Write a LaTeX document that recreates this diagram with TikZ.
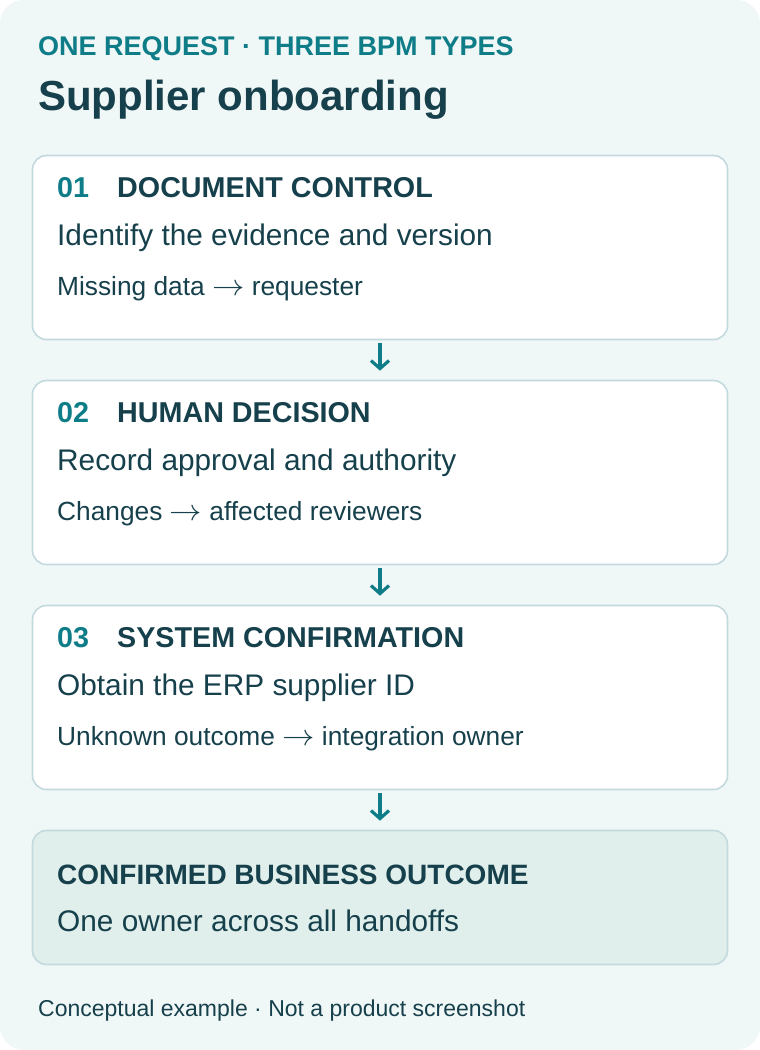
\documentclass[tikz,border=0pt]{standalone}
\usepackage{graphicx}
\usepackage{fontspec}
\setmainfont{Liberation Sans}
\usetikzlibrary{arrows.meta}
\definecolor{bgc}{HTML}{F0F7F7}
\definecolor{teal1}{HTML}{0E7D88}
\definecolor{ink}{HTML}{16404B}
\definecolor{edge}{HTML}{C3D9DE}
\definecolor{outfill}{HTML}{E0EFEC}
\newcommand{\myarr}{\raisebox{-0.5pt}{\scalebox{1.3}[1.2]{$\rightarrow$}}}
\tikzset{
  txt/.style={anchor=base west, inner sep=0pt, text=ink},
  eyebrow/.style={txt, text=teal1, font=\fontsize{27}{32}\selectfont\bfseries},
  bigtitle/.style={txt, font=\fontsize{42}{48}\selectfont\bfseries},
  num/.style={txt, text=teal1, font=\fontsize{28.7}{32}\selectfont\bfseries},
  head/.style={txt, font=\fontsize{28.7}{32}\selectfont\bfseries},
  outhead/.style={txt, font=\fontsize{28}{32}\selectfont\bfseries},
  maintxt/.style={txt, font=\fontsize{29.8}{34}\selectfont},
  subtxt/.style={txt, font=\fontsize{26.3}{30}\selectfont},
  foottxt/.style={txt, font=\fontsize{23}{26}\selectfont},
  card/.style={draw=edge, line width=1.6pt, fill=white, rounded corners=14pt,
    minimum width=695pt, inner sep=0pt},
  outcard/.style={card, fill=outfill},
  flow/.style={draw=teal1, line width=3.2pt,
    -{Straight Barb[length=8pt, width=18pt]},
    shorten <=3pt, shorten >=9pt}
}
\begin{document}
\begin{tikzpicture}[x=1pt, y=-1pt]
  \fill[white] (0,0) rectangle (760,1050);
  \useasboundingbox (0,0) rectangle (760,1050);
  \fill[bgc, rounded corners=24pt] (0,0) rectangle (760,1050);

  \node[eyebrow] (eyebrow) at (38,55) {ONE REQUEST · THREE BPM TYPES};
  \node[bigtitle] (title) at (38,110) {Supplier onboarding};

  % cards
  \node[card, minimum height=184pt] (b1) at (380,247.5) {};
  \node[card, minimum height=184pt] (b2) at (380,472.5) {};
  \node[card, minimum height=184pt] (b3) at (380,697.5) {};
  \node[outcard, minimum height=134pt] (b4) at (380,897.5) {};

  % card 1
  \node[num] (n1) at (57,197) {01};
  \node[head] (h1) at (117,197) {DOCUMENT CONTROL};
  \node[maintxt] (m1) at (57,245) {Identify the evidence and version};
  \node[subtxt] (s1) at (57,295) {Missing data \myarr{} requester};

  % card 2
  \node[num] (n2) at (57,422) {02};
  \node[head] (h2) at (117,422) {HUMAN DECISION};
  \node[maintxt] (m2) at (57,470) {Record approval and authority};
  \node[subtxt] (s2) at (57,520) {Changes \myarr{} affected reviewers};

  % card 3
  \node[num] (n3) at (57,647) {03};
  \node[head] (h3) at (117,647) {SYSTEM CONFIRMATION};
  \node[maintxt] (m3) at (57,695) {Obtain the ERP supplier ID};
  \node[subtxt] (s3) at (57,745) {Unknown outcome \myarr{} integration owner};

  % outcome
  \node[outhead] (h4) at (57,884) {CONFIRMED BUSINESS OUTCOME};
  \node[maintxt] (m4) at (57,931) {One owner across all handoffs};

  % footer
  \node[foottxt] (foot) at (38,1016) {Conceptual example · Not a product screenshot};

  % connectors
  \draw[flow] (b1.south) -- (b2.north);
  \draw[flow] (b2.south) -- (b3.north);
  \draw[flow] (b3.south) -- (b4.north);
\end{tikzpicture}
\end{document}
